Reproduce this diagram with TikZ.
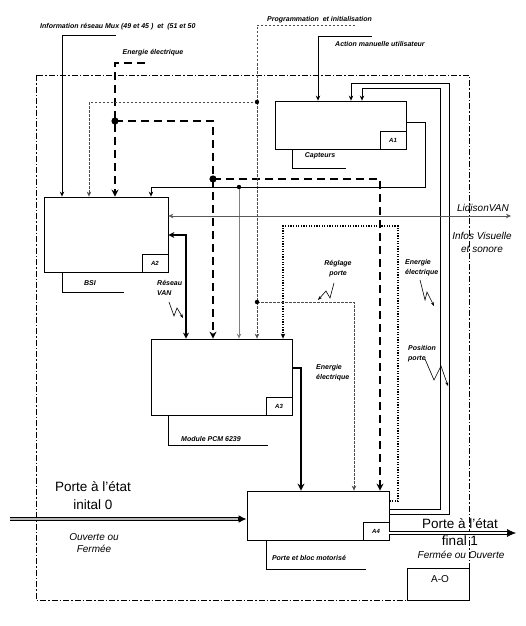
\documentclass[tikz,border=0pt]{standalone}
\usepackage{fontspec}
\setmainfont{Liberation Sans}
\usetikzlibrary{arrows.meta}

\tikzset{
  box/.style={draw, line width=.8pt, inner sep=0pt},
  lab/.style={draw, line width=.8pt, inner sep=0pt, minimum width=26pt, minimum height=18pt,
    anchor=south east, font=\bfseries\itshape\fontsize{6}{6}\selectfont},
  tag/.style={inner sep=0pt, font=\bfseries\itshape\fontsize{7}{10}\selectfont},
  big/.style={inner sep=0pt, font=\fontsize{13.5}{17.5}\selectfont},
  ital/.style={inner sep=0pt, font=\itshape\fontsize{10}{12.5}\selectfont},
  fl/.style={line width=.8pt},
  tip/.style={-{Stealth[length=5pt,width=4.5pt]}},
  ener/.style={line width=2.6pt, dash pattern=on 8pt off 5pt},
  etip/.style={-{Stealth[length=7pt,width=7pt]}},
  prog/.style={gray!60!black, line width=.6pt, dash pattern=on 2.5pt off 1.5pt},
  pdot/.style={line width=1.4pt, dash pattern=on 1.3pt off 1.3pt},
  van/.style={line width=2.2pt},
  zig/.style={line width=.6pt, -{Stealth[length=4pt,width=3pt]}},
  frame/.style={line width=.7pt, dash pattern=on 6pt off 2pt on 1.5pt off 2pt}
}

\begin{document}
\begin{tikzpicture}[x=1pt, y=-1pt]
\useasboundingbox (0,0) rectangle (526,626);

% cadre A-0
\draw[frame] (36,75) rectangle (469,600);

% boites
\node[box, minimum width=131pt, minimum height=48pt] (a1) at (340.5,125) {};
\node[lab] (a1l) at (a1.south east) {A1};
\node[box, minimum width=124pt, minimum height=75pt] (a2) at (106,234.5) {};
\node[lab] (a2l) at (a2.south east) {A2};
\node[box, minimum width=141pt, minimum height=76pt] (a3) at (221.5,377) {};
\node[lab] (a3l) at (a3.south east) {A3};
\node[box, minimum width=142pt, minimum height=49pt] (a4) at (318,515.5) {};
\node[lab] (a4l) at (a4.south east) {A4};
\node[box, minimum width=62pt, minimum height=32pt] (ao) at (438,584) {};
\node[inner sep=0pt, font=\fontsize{10}{10}\selectfont] (aot) at (440,579) {A-O};

% textes
\node[tag, anchor=west] (mux) at (40,27) {Information réseau Mux (49 et 45 )\ \ et\ \ (51 et 50};
\node[tag] (enet) at (153,53) {Energie électrique};
\node[tag, anchor=west] (prog) at (267,20) {Programmation\ \ et initialisation};
\node[tag, anchor=west] (act) at (335,44) {Action manuelle utilisateur};
\node[tag] (capt) at (320,156) {Capteurs};
\node[tag] (bsi) at (90,283) {BSI};
\node[tag, align=left, anchor=west] (rvan) at (157,287.5) {Réseau\\VAN};
\node[tag, align=center] (regl) at (338,268.5) {Réglage\\porte};
\node[tag, align=left, anchor=west] (ene3) at (316,372.5) {Energie\\électrique};
\node[tag, align=left, anchor=west] (ene4) at (405,267.5) {Energie\\électrique};
\node[tag, align=left, anchor=west] (pos) at (408,353.5) {Position\\porte};
\node[tag] (pcm) at (211,439) {Module PCM 6239};
\node[tag] (moto) at (309,558) {Porte et bloc motorisé};
\node[ital] (liai) at (483,208) {LidisonVAN};
\node[ital, align=center] (infos) at (482,242.5) {Infos Visuelle\\et sonore};
\node[big, align=center] (pin) at (93,495.5) {Porte à l'état\\inital 0};
\node[ital, align=center] (pin2) at (94,543) {Ouverte ou\\Fermée};
\node[big, align=center] (pout) at (460,532) {Porte à l'état\\final 1};
\node[ital] (pout2) at (461,555) {Fermée ou Ouverte};

% information reseau
\coordinate (muxe) at (116,35);
\coordinate (muxb) at (62,35);
\draw[fl, tip] (muxe) -- (muxb) -- (muxb |- a2.north);

% energie electrique
\coordinate (ene) at (145,63);
\coordinate (enb) at (115,63);
\coordinate (j1) at (115,121);
\coordinate (j1b) at (213,121);
\coordinate (j2) at (213,179);
\coordinate (j2b) at (380,179);
\draw[ener, etip] (ene) -- (enb) -- (enb |- a2.north);
\draw[ener] (j1) -- (j1b) -- (j2);
\draw[ener, etip] (j2) -- (j2 |- a3.north);
\draw[ener, etip] (j2) -- (j2b) -- (j2b |- a4.north);
\fill (j1) circle (3.6pt);
\fill (j2) circle (3.6pt);

% programmation et initialisation
\coordinate (prge) at (355,25);
\coordinate (prgb) at (257,25);
\coordinate (j3) at (257,102);
\coordinate (j3b) at (89,102);
\coordinate (j4) at (257,302);
\coordinate (j4b) at (354,302);
\draw[prog] (prge) -- (prgb) -- (j3);
\draw[prog, tip] (j3) -- (j3b) -- (j3b |- a2.north);
\draw[prog, tip] (j3) -- (j4) -- (j4 |- a3.north);
\draw[prog, tip] (j4) -- (j4b) -- (j4b |- a4.north);
\fill (j3) circle (2.2pt);
\fill (j4) circle (2.2pt);

% capteurs
\coordinate (c1) at (425,122);
\coordinate (c2) at (425,187);
\coordinate (c3) at (151,187);
\coordinate (j5) at (239,187);
\draw[fl, tip] (a1.east |- c1) -- (c1) -- (c2) -- (c3) -- (c3 |- a2.north);
\draw[fl, gray, tip] (j5) -- (j5 |- a3.north);
\fill (j5) circle (2.2pt);

% action manuelle
\coordinate (acte) at (372,36);
\coordinate (actb) at (318,36);
\draw[fl, tip] (acte) -- (actb) -- (actb |- a1.north);

% retours A4 -> A1
\coordinate (r1) at (440,509);
\coordinate (r1b) at (440,88);
\coordinate (r1c) at (362,88);
\draw[fl, tip] (a4.east |- r1) -- (r1) -- (r1b) -- (r1c) -- (r1c |- a1.north);
\coordinate (r2) at (449,514);
\coordinate (r2b) at (449,83);
\coordinate (r2c) at (351,83);
\draw[fl, line width=.9pt, tip] (a4.east |- r2) -- (r2) -- (r2b) -- (r2c) -- (r2c |- a1.north);

% reglage porte
\coordinate (d1) at (398,501);
\coordinate (d1b) at (398,226);
\coordinate (d1c) at (283,226);
\draw[pdot, tip] (a4.east |- d1) -- (d1) -- (d1b) -- (d1c) -- (d1c |- a3.north);

% liaison VAN
\coordinate (lv) at (511,216);
\draw[gray!70!black, line width=.5pt, {Stealth[length=5pt,width=4.5pt]}-{Stealth[length=5pt,width=4.5pt]}] (a2.east |- lv) -- (lv);

% reseau VAN
\coordinate (rv) at (186,235);
\draw[van, {Stealth[length=6pt,width=6pt]}-{Stealth[length=6pt,width=6pt]}] (a2.east |- rv) -- (rv) -- (rv |- a3.north);

% energie A3 -> A4
\coordinate (e3) at (301,368);
\draw[van, etip] (a3.east |- e3) -- (e3) -- (e3 |- a4.north);

% porte etat initial / final
\coordinate (pin0) at (10,519);
\draw[line width=3.2pt, -{Latex[length=8pt,width=8pt]}] (pin0) -- (a4.west |- pin0);
\draw[gray!55, line width=1.2pt, shorten >=9pt] (pin0) -- (a4.west |- pin0);
\coordinate (pout0) at (516,533);
\draw[line width=.7pt, double distance=2pt, shorten >=7pt] (a4.east |- pout0) -- (pout0);
\draw[line width=.5pt, -{Latex[length=9pt,width=8pt]}] ([xshift=-8pt]pout0) -- (pout0);

% traits des noms
\coordinate (bsi1) at (62,292);
\coordinate (bsi2) at (124,292);
\draw[fl] (a2.south -| bsi1) -- (bsi1) -- (bsi2);
\coordinate (cap1) at (292,168);
\coordinate (cap2) at (346,168);
\draw[fl] (a1.south -| cap1) -- (cap1) -- (cap2);
\coordinate (pcm1) at (168,445);
\coordinate (pcm2) at (268,445);
\draw[fl] (a3.south -| pcm1) -- (pcm1) -- (pcm2);
\coordinate (mot1) at (266,569);
\coordinate (mot2) at (366,569);
\draw[fl] (a4.south -| mot1) -- (mot1) -- (mot2);

% eclairs
\draw[zig] (169,302) -- (174,316) -- (177,308) -- (183,318);
\draw[zig] (334,283) -- (330,298) -- (326,291) -- (318,300);
\draw[zig] (420,280) -- (425,300) -- (427,292) -- (434,306);
\draw[zig] (425,359) -- (434,380) -- (441,366) -- (448,386);
\end{tikzpicture}
\end{document}
